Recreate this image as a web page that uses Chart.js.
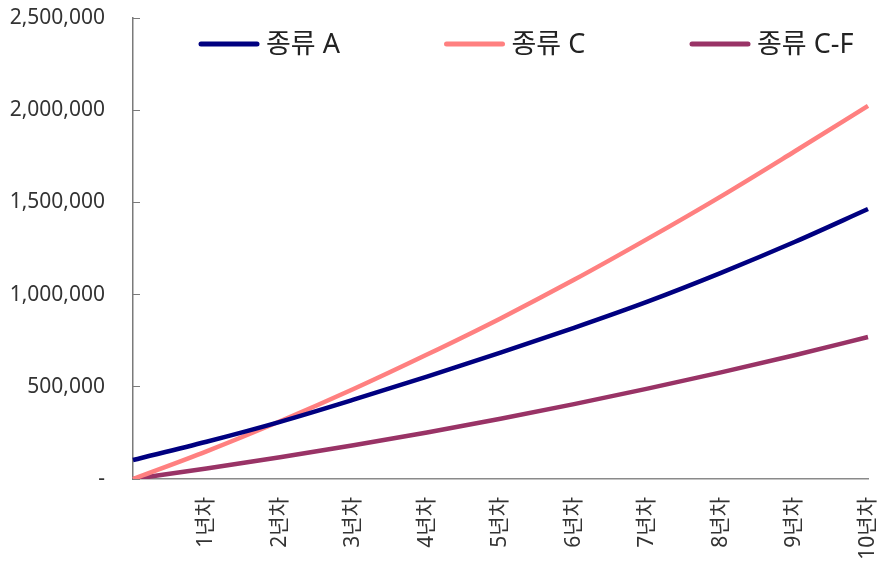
<!DOCTYPE html>
<html>
<head>
<meta charset="utf-8">
<script src="https://cdn.jsdelivr.net/npm/chart.js@4"></script>
<style>
    html, body {margin: 0; padding: 0; background: #fff;}
    #wrap {width: 880px; height: 564px;}
</style>
</head>
<body>
<div id="wrap"><canvas id="lineChart" width="880" height="564"></canvas></div>
<script>
const yearLabels = ['', '1년차', '2년차', '3년차', '4년차', '5년차', '6년차', '7년차', '8년차', '9년차', '10년차'];
const seriesNames = ['종류 A', '종류 C', '종류 C-F'];
const typeA = [103000, 202000, 310000, 430000, 555000, 685000, 820000, 962000, 1118000, 1285000, 1464000];
const typeC = [0, 150000, 313000, 488000, 675000, 871000, 1080000, 1302000, 1533000, 1776000, 2023000];
const typeCF = [0, 57000, 118000, 183000, 252000, 327000, 406000, 490000, 578000, 671000, 770000];
const yTicks = [0, 500000, 1000000, 1500000, 2000000, 2500000];

const fontFamily = '"Noto Sans", "Noto Sans CJK KR", sans-serif';

// legend drawn inside the plot area, items on a fixed step
const insideLegend = {
    id: 'insideLegend',
    afterDraw: (chart) => {
        const ctx = chart.ctx;
        const area = chart.chartArea;
        ctx.save();
        ctx.font = '27px ' + fontFamily;
        ctx.textBaseline = 'middle';
        chart.data.datasets.forEach((ds, i) => {
            const x = area.left + 68 + i * 245.5;
            const y = 44;
            ctx.strokeStyle = ds.borderColor;
            ctx.lineWidth = 5;
            ctx.lineCap = 'round';
            ctx.beginPath();
            ctx.moveTo(x, y);
            ctx.lineTo(x + 56, y);
            ctx.stroke();
            ctx.fillStyle = '#222';
            ctx.fillText(ds.label, x + 65, y + 1);
        })
        ctx.restore();
    }
}

const noPad = (scale) => {
    scale.paddingTop = 0;
    scale.paddingBottom = 0;
    scale.paddingLeft = 0;
    scale.paddingRight = 0;
}

window.addEventListener('load', () => {
    const ctx = document.getElementById('lineChart');

    new Chart(ctx, {
        type: 'line',
        data: {
            labels: yearLabels,
            datasets: [{
                label: seriesNames[0],
                data: typeA,
                borderColor: '#000080',
                backgroundColor: '#000080',
            },
                {
                    label: seriesNames[1],
                    data: typeC,
                    borderColor: '#ff8080',
                    backgroundColor: '#ff8080',
                },
                {
                    label: seriesNames[2],
                    data: typeCF,
                    borderColor: '#993366',
                    backgroundColor: '#993366',
                }]
        },
        options: {
            responsive: false,
            animation: false,
            devicePixelRatio: 1,
            layout: {padding: {left: 0, right: 12, top: 18, bottom: 0}},
            elements: {
                point: {radius: 0},
                line: {borderWidth: 4.5, fill: false, cubicInterpolationMode: 'monotone'}
            },
            plugins: {
                legend: {display: false},
                tooltip: {enabled: false}
            },
            scales: {
                x: {
                    offset: false,
                    grid: {display: false, drawTicks: false},
                    border: {display: true, color: '#8a8a8a', width: 1.5},
                    ticks: {
                        autoSkip: false,
                        maxRotation: 90,
                        minRotation: 90,
                        padding: 18,
                        color: '#333',
                        font: {family: fontFamily, size: 21}
                    },
                    afterFit: (scale) => {
                        scale.height = 85;
                        noPad(scale);
                    }
                },
                y: {
                    min: yTicks[0],
                    max: yTicks[yTicks.length - 1],
                    afterBuildTicks: (scale) => {
                        scale.ticks = yTicks.map((v) => ({value: v}));
                    },
                    grid: {drawOnChartArea: false, drawTicks: true, tickLength: -7, color: '#7a7a7a', lineWidth: 1},
                    border: {display: true, color: '#7a7a7a', width: 1.5},
                    ticks: {
                        padding: 35,
                        color: '#333',
                        font: {family: fontFamily, size: 21},
                        callback: (v) => v === 0 ? '-' : Number(v).toLocaleString('en-US')
                    },
                    afterFit: (scale) => {
                        scale.width = 133;
                        noPad(scale);
                    }
                }
            }
        },
        plugins: [insideLegend]
    });
})
</script>
</body>
</html>
